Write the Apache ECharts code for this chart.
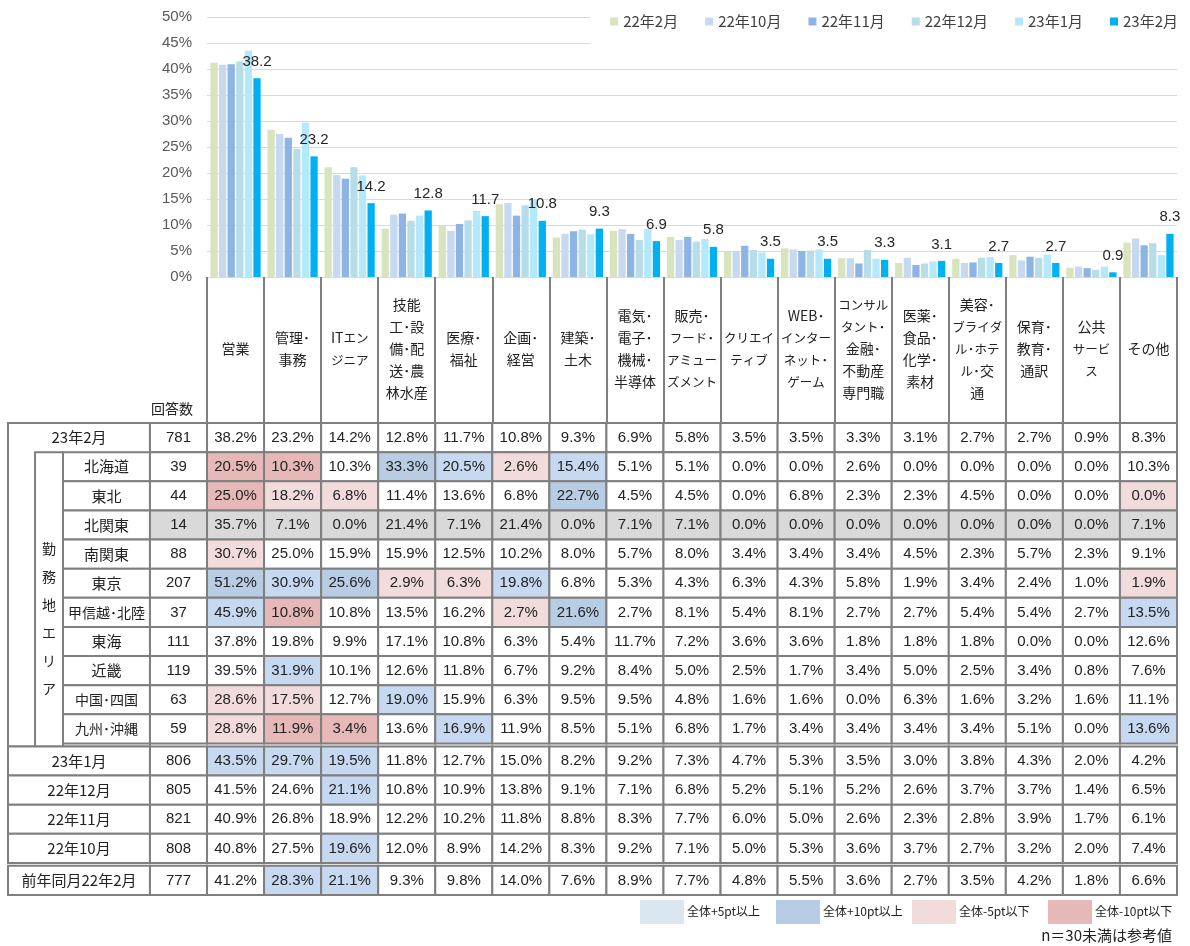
<!DOCTYPE html>
<html><head><meta charset="utf-8">
<script src="https://cdn.jsdelivr.net/npm/echarts@6/dist/echarts.min.js"></script>
<style>html,body{margin:0;padding:0;background:#fff}#c{width:1190px;height:946px}</style>
</head><body><div id="c"></div>
<script>
// ---------- data ----------
const categories = [
  '営業', '管理･\n事務', 'ITエン\nジニア', '技能\n工･設\n備･配\n送･農\n林水産', '医療･\n福祉',
  '企画･\n経営', '建築･\n土木', '電気･\n電子･\n機械･\n半導体', '販売･\nフード･\nアミュー\nズメント',
  'クリエイ\nティブ', 'WEB･\nインター\nネット･\nゲーム', 'コンサル\nタント･\n金融･\n不動産\n専門職',
  '医薬･\n食品･\n化学･\n素材', '美容･\nブライダ\nル･ホテ\nル･交\n通', '保育･\n教育･\n通訳',
  '公共\nサービ\nス', 'その他'
];
const seriesNames = ['22年2月', '22年10月', '22年11月', '22年12月', '23年1月', '23年2月'];

const totalLabel = '23年2月';
const totalCount = 781;
const totalValues = [38.2,23.2,14.2,12.8,11.7,10.8,9.3,6.9,5.8,3.5,3.5,3.3,3.1,2.7,2.7,0.9,8.3];

const areaTitle = '勤\n務\n地\nエ\nリ\nア';
const regionNames = ['北海道','東北','北関東','南関東','東京','甲信越･北陸','東海','近畿','中国･四国','九州･沖縄'];
const regionCounts = [39,44,14,88,207,37,111,119,63,59];
const hokkaido   = [20.5,10.3,10.3,33.3,20.5,2.6,15.4,5.1,5.1,0.0,0.0,2.6,0.0,0.0,0.0,0.0,10.3];
const tohoku     = [25.0,18.2,6.8,11.4,13.6,6.8,22.7,4.5,4.5,0.0,6.8,2.3,2.3,4.5,0.0,0.0,0.0];
const kitakanto  = [35.7,7.1,0.0,21.4,7.1,21.4,0.0,7.1,7.1,0.0,0.0,0.0,0.0,0.0,0.0,0.0,7.1];
const minamikanto= [30.7,25.0,15.9,15.9,12.5,10.2,8.0,5.7,8.0,3.4,3.4,3.4,4.5,2.3,5.7,2.3,9.1];
const tokyo      = [51.2,30.9,25.6,2.9,6.3,19.8,6.8,5.3,4.3,6.3,4.3,5.8,1.9,3.4,2.4,1.0,1.9];
const koshinetsu = [45.9,10.8,10.8,13.5,16.2,2.7,21.6,2.7,8.1,5.4,8.1,2.7,2.7,5.4,5.4,2.7,13.5];
const tokai      = [37.8,19.8,9.9,17.1,10.8,6.3,5.4,11.7,7.2,3.6,3.6,1.8,1.8,1.8,0.0,0.0,12.6];
const kinki      = [39.5,31.9,10.1,12.6,11.8,6.7,9.2,8.4,5.0,2.5,1.7,3.4,5.0,2.5,3.4,0.8,7.6];
const chushikoku = [28.6,17.5,12.7,19.0,15.9,6.3,9.5,9.5,4.8,1.6,1.6,0.0,6.3,1.6,3.2,1.6,11.1];
const kyushu     = [28.8,11.9,3.4,13.6,16.9,11.9,8.5,5.1,6.8,1.7,3.4,3.4,3.4,3.4,5.1,0.0,13.6];

const pastLabels = ['23年1月','22年12月','22年11月','22年10月','前年同月22年2月'];
const pastCounts = [806,805,821,808,777];
const jan23 = [43.5,29.7,19.5,11.8,12.7,15.0,8.2,9.2,7.3,4.7,5.3,3.5,3.0,3.8,4.3,2.0,4.2];
const dec22 = [41.5,24.6,21.1,10.8,10.9,13.8,9.1,7.1,6.8,5.2,5.1,5.2,2.6,3.7,3.7,1.4,6.5];
const nov22 = [40.9,26.8,18.9,12.2,10.2,11.8,8.8,8.3,7.7,6.0,5.0,2.6,2.3,2.8,3.9,1.7,6.1];
const oct22 = [40.8,27.5,19.6,12.0,8.9,14.2,8.3,9.2,7.1,5.0,5.3,3.6,3.7,2.7,3.2,2.0,7.4];
const feb22 = [41.2,28.3,21.1,9.3,9.8,14.0,7.6,8.9,7.7,4.8,5.5,3.6,2.7,3.5,4.2,1.8,6.6];

const yTicks = [0,5,10,15,20,25,30,35,40,45,50];
const legendItems = ['全体+5pt以上','全体+10pt以上','全体-5pt以下','全体-10pt以下'];
const countHeader = '回答数';
const note = 'n＝30未満は参考値';

// ---------- styles ----------
const FONT = '"Liberation Sans","Noto Sans CJK JP",sans-serif';
const JFONT = '"Noto Sans CJK JP","Liberation Sans",sans-serif';
const barColors = ['#d7e4bd','#c6d9f1','#8eb4e3','#b7dee8','#b3e9fb','#00b0f0'];
const fillPlus5 = '#c6d9f0', fillPlus10 = '#b8cce4', fillMinus5 = '#f2dcdb', fillMinus10 = '#e6b8b7', fillGray = '#d9d9d9';
const legendFills = ['#dce6f1', fillPlus10, fillMinus5, fillMinus10];
const BORDER = '#7f7f7f';

const regionValues = [hokkaido,tohoku,kitakanto,minamikanto,tokyo,koshinetsu,tokai,kinki,chushikoku,kyushu];
const pastValues = [jan23,dec22,nov22,oct22,feb22];
const barData = [feb22, oct22, nov22, dec22, jan23, totalValues];

function cellFill(v, t, n) {
  if (n < 30) return fillGray;
  const d = Math.round((v - t) * 10) / 10;
  if (d >= 10) return fillPlus10;
  if (d >= 5) return fillPlus5;
  if (d <= -10) return fillMinus10;
  if (d <= -5) return fillMinus5;
  return '#fff';
}

// table layout in column units (one unit = one category column)
const X_OUT = -3.488, X_VERT = -3.014, X_REG = -2.524, X_CNT = -1, X_DAT = 0, X_END = categories.length;
const GAP = 0.1;
function rowY(i) { return i + (i >= 11 ? GAP : 0) + (i >= 15 ? GAP : 0); }
const Y_MAX = rowY(16);

const cells = [];
function add(x0, x1, y0, y1, o) { cells.push(Object.assign({x0, x1, y0, y1}, o)); }
function addRowData(r, vals, n) {
  vals.forEach((v, k) => add(X_DAT + k, X_DAT + k + 1, rowY(r), rowY(r) + 1,
    {rect: true, fill: cellFill(v, totalValues[k], n), text: v.toFixed(1) + '%', size: 15}));
}
// block A
add(X_OUT, X_CNT, rowY(0), rowY(11), {rect: true, fill: '#fff'});
add(X_OUT, X_CNT, rowY(0), rowY(1), {text: totalLabel, font: JFONT, size: 15});
add(X_VERT, X_REG, rowY(1), rowY(11), {rect: true, fill: '#fff'});
add(X_VERT, X_REG, 2.45, 11, {text: areaTitle, font: JFONT, size: 14, lh: 28});
add(X_CNT, X_DAT, rowY(0), rowY(1), {rect: true, fill: '#fff', text: String(totalCount), size: 15});
addRowData(0, totalValues, totalCount);
regionNames.forEach((nm, i) => {
  const r = i + 1;
  add(X_REG, X_CNT, rowY(r), rowY(r) + 1, {rect: true, fill: '#fff', text: nm, font: JFONT, size: nm.length > 4 ? 14 : 15});
  add(X_CNT, X_DAT, rowY(r), rowY(r) + 1, {rect: true, fill: regionCounts[i] < 30 ? fillGray : '#fff', text: String(regionCounts[i]), size: 15});
  addRowData(r, regionValues[i], regionCounts[i]);
});
pastLabels.forEach((nm, i) => {
  const r = 11 + i;
  add(X_OUT, X_CNT, rowY(r), rowY(r) + 1, {rect: true, fill: '#fff', text: nm, font: JFONT, size: 15});
  add(X_CNT, X_DAT, rowY(r), rowY(r) + 1, {rect: true, fill: '#fff', text: String(pastCounts[i]), size: 15});
  addRowData(r, pastValues[i], pastCounts[i]);
});
add(X_CNT, X_DAT, -1, 0, {text: countHeader, font: JFONT, size: 14, alignLeft: true});

const chart = echarts.init(document.getElementById('c'), null, {renderer: 'canvas'});

const barSeries = seriesNames.map((nm, i) => ({
  name: nm, type: 'bar', xAxisIndex: 0, yAxisIndex: 0,
  data: barData[i], barGap: '18%', barCategoryGap: '12%',
  itemStyle: {color: barColors[i]},
  label: i === seriesNames.length - 1 ? {
    show: true, position: 'top', distance: 9, color: '#262626',
    fontSize: 15, fontFamily: FONT, formatter: p => p.value.toFixed(1)
  } : {show: false}
}));

// condensed katakana in header labels
function headerFormatter(v) {
  return v.split('\n').map(line => line.replace(/([\u30A0-\u30FF]+)/g, '{k|$1}')).join('\n');
}

const graphic = [];
const legX = [640, 776, 912, 1048];
legendItems.forEach((t, i) => {
  graphic.push({type: 'rect', left: legX[i], top: 900, shape: {width: 44, height: 24}, style: {fill: legendFills[i]}});
  graphic.push({type: 'text', left: legX[i] + 47, top: 905, style: {text: t, fill: '#222', font: '12px ' + JFONT}});
});
graphic.push({type: 'text', right: 18, top: 928, style: {text: note, fill: '#222', font: '15px ' + JFONT}});

chart.setOption({
  animation: false,
  backgroundColor: '#fff',
  textStyle: {fontFamily: FONT},
  legend: {
    data: seriesNames, right: 6, top: 4, padding: [10, 6, 16, 20],
    backgroundColor: '#fff', itemWidth: 8, itemHeight: 8, itemGap: 27,
    icon: 'rect', textStyle: {fontSize: 15, color: '#404040', fontFamily: JFONT}, z: 10
  },
  grid: [
    {left: 207, right: 13, top: 17, height: 260},
    {left: 8, right: 13, top: 423, bottom: 51}
  ],
  xAxis: [
    {
      type: 'category', gridIndex: 0, data: categories,
      axisLine: {show: true, lineStyle: {color: '#d9d9d9', width: 1}},
      axisTick: {show: true, length: 146, interval: 0, lineStyle: {color: BORDER, width: 2}},
      axisLabel: {interval: 0, margin: 72, verticalAlign: 'middle', lineHeight: 22,
        fontSize: 14, color: '#222', fontFamily: JFONT, formatter: headerFormatter,
        rich: {k: {fontSize: 12.5, lineHeight: 22, color: '#222', fontFamily: JFONT}}}
    },
    {type: 'value', gridIndex: 1, min: X_OUT, max: X_END, show: false}
  ],
  yAxis: [
    {
      type: 'value', gridIndex: 0, min: yTicks[0], max: yTicks[yTicks.length - 1], interval: 5,
      axisLine: {show: false}, axisTick: {show: false},
      axisLabel: {formatter: '{value}%', margin: 15, fontSize: 15, color: '#595959', fontFamily: FONT},
      splitLine: {lineStyle: {color: '#d9d9d9', width: 1}}
    },
    {type: 'value', gridIndex: 1, min: 0, max: Y_MAX, inverse: true, show: false}
  ],
  series: barSeries.concat([{
    type: 'custom', xAxisIndex: 1, yAxisIndex: 1, clip: false, silent: true,
    data: cells.map(c => [c.x0, c.y0, c.x1, c.y1]),
    renderItem: function (params, api) {
      const c = cells[params.dataIndex];
      const p0 = api.coord([api.value(0), api.value(1)]);
      const p1 = api.coord([api.value(2), api.value(3)]);
      const ch = [];
      if (c.rect) ch.push({type: 'rect',
        shape: {x: p0[0], y: p0[1], width: p1[0] - p0[0], height: p1[1] - p0[1]},
        style: {fill: c.fill || '#fff', stroke: BORDER, lineWidth: 2}});
      if (c.text) ch.push({type: 'text', style: {
        text: c.text,
        x: c.alignLeft ? p0[0] + 1 : (p0[0] + p1[0]) / 2,
        y: (p0[1] + p1[1]) / 2,
        align: c.alignLeft ? 'left' : 'center', verticalAlign: 'middle',
        fontSize: c.size || 15, fontFamily: c.font || FONT,
        lineHeight: c.lh || undefined, fill: '#222'}});
      return {type: 'group', children: ch};
    }
  }]),
  graphic: graphic
});
</script>
</body></html>
